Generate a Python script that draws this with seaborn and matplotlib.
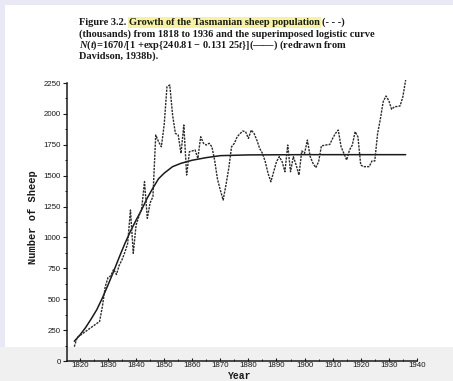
import matplotlib
matplotlib.use('Agg')
import matplotlib.pyplot as plt
import seaborn as sns
from matplotlib.patches import Rectangle
from matplotlib.ticker import MultipleLocator

sns.set_theme(style='ticks')
plt.rcParams['font.family'] = ['Liberation Sans', 'DejaVu Sans']
plt.rcParams['mathtext.fontset'] = 'custom'
plt.rcParams['mathtext.rm'] = 'Liberation Serif:bold'
plt.rcParams['mathtext.it'] = 'Liberation Serif:italic:bold'

# sheep population (thousands)
years = [1818, 1819, 1827, 1828, 1829, 1830, 1831, 1832, 1833, 1834, 1835, 1836,
         1837, 1838, 1839, 1840, 1841, 1842, 1843, 1844, 1845, 1846, 1847, 1848,
         1849, 1850, 1851, 1852, 1853, 1854, 1855, 1856, 1857, 1858, 1859, 1860,
         1861, 1862, 1863, 1864, 1865, 1866, 1867, 1868, 1869, 1870, 1871, 1872,
         1873, 1874, 1875, 1876, 1877, 1878, 1879, 1880, 1881, 1882, 1883, 1884,
         1885, 1886, 1887, 1888, 1889, 1890, 1891, 1892, 1893, 1894, 1895, 1896,
         1897, 1898, 1899, 1900, 1901, 1902, 1903, 1904, 1905, 1906, 1907, 1908,
         1909, 1910, 1911, 1912, 1913, 1914, 1915, 1916, 1917, 1918, 1919, 1920,
         1921, 1922, 1923, 1924, 1925, 1926, 1927, 1928, 1929, 1930, 1931, 1932,
         1933, 1934, 1935, 1936]
sheep = [116, 190, 320, 440, 600, 675, 690, 742, 700, 775, 820, 880,
         950, 1222, 872, 1100, 1170, 1236, 1451, 1155, 1280, 1330, 1829, 1775,
         1734, 1910, 2220, 2234, 1991, 1842, 1829, 1681, 1910, 1505, 1694, 1700,
         1708, 1640, 1815, 1762, 1748, 1762, 1734, 1620, 1470, 1384, 1303, 1424,
         1559, 1734, 1762, 1815, 1840, 1861, 1856, 1802, 1869, 1842, 1788, 1720,
         1681, 1613, 1519, 1451, 1532, 1613, 1654, 1613, 1532, 1748, 1532, 1654,
         1586, 1505, 1700, 1681, 1788, 1654, 1600, 1565, 1613, 1742, 1745, 1750,
         1753, 1802, 1842, 1869, 1734, 1680, 1627, 1708, 1748, 1856, 1815, 1586,
         1573, 1573, 1573, 1619, 1619, 1840, 1960, 2099, 2145, 2107, 2037, 2058,
         2060, 2064, 2139, 2274]

# superimposed logistic curve
fit_years = [1818, 1820, 1822, 1824, 1826, 1828, 1830, 1832, 1834, 1836, 1838,
             1840, 1842, 1844, 1846, 1848, 1850, 1853, 1856, 1860, 1865, 1870,
             1880, 1900, 1936]
fit_sheep = [160, 210, 270, 340, 415, 510, 615, 725, 840, 950, 1050,
             1140, 1225, 1320, 1400, 1475, 1520, 1573, 1600, 1625, 1646, 1662,
             1668, 1670, 1670]

x_ticks = list(range(1820, 1941, 10))
y_ticks = list(range(0, 2251, 250))

W, H = 453, 381
fig = plt.figure(figsize=(W / 100, H / 100), dpi=100)
fig.patch.set_facecolor('#e9e9f6')
fig.add_artist(Rectangle((5 / W, 1 - 347 / H), 448 / W, 342 / H,
                         transform=fig.transFigure, facecolor='white',
                         edgecolor='none', zorder=-2))
fig.add_artist(Rectangle((0, 0), 1, 34 / H, transform=fig.transFigure,
                         facecolor='#f0f0f0', edgecolor='none', zorder=-2))

ax = fig.add_axes([67 / W, 20 / H, 349.9 / W, 278 / H])
ax.set_facecolor('none')

ink = '#1a1a1a'
sns.lineplot(x=fit_years, y=fit_sheep, ax=ax, color=ink, linewidth=1.1)
sns.lineplot(x=years, y=sheep, ax=ax, color='#2a2a2a', linewidth=1.0,
             linestyle=(0, (1.6, 0.8)), clip_on=False)

ax.set_xlim(1815.4, 1940)
ax.set_ylim(0, 2250)
ax.set_xticks(x_ticks)
ax.set_yticks(y_ticks)
ax.xaxis.set_minor_locator(MultipleLocator(5))
ax.yaxis.set_minor_locator(MultipleLocator(125))
sns.despine(ax=ax)
for s in ['left', 'bottom']:
    ax.spines[s].set_color(ink)
    ax.spines[s].set_linewidth(1.1)
ax.tick_params(axis='y', which='major', direction='out', length=3, width=0.8,
               pad=1.5, labelsize=5.7, colors=ink)
ax.tick_params(axis='y', which='minor', direction='out', length=1.8, width=0.7, colors=ink)
ax.tick_params(axis='x', which='major', direction='in', length=2.5, width=0.8,
               pad=1.0, labelsize=5.7, colors=ink)
ax.tick_params(axis='x', which='minor', direction='in', length=1.5, width=0.7, colors=ink)

ax.set_ylabel('Number of Sheep', fontsize=7.5, fontweight='bold',
              family='Liberation Mono', color=ink, va='center')
ax.yaxis.set_label_coords((33 - 67) / 349.9, (361 - 217) / 278)
ax.set_xlabel('Year', fontsize=7, fontweight='bold', family='Liberation Mono',
              color=ink, va='center')
ax.xaxis.set_label_coords((240 - 67) / 349.9, (361 - 376) / 278)

# caption, drawn piece by piece so part of line 1 can be highlighted
fig.canvas.draw()
renderer = fig.canvas.get_renderer()
cap = dict(fontsize=7.45, fontweight='bold', family='Liberation Serif',
           color=ink, va='center', ha='left')
gap = 2.6 / W


def caption_line(y_px, pieces):
    x = 79 / W
    for txt, hl in pieces:
        t = fig.text(x, 1 - y_px / H, txt, **cap)
        if hl:
            t.set_bbox(dict(facecolor='#f8f2a0', edgecolor='none', pad=0.5))
        bb = t.get_window_extent(renderer)
        x = bb.x1 / W + gap


caption_line(22.3, [('Figure 3.2.', False),
                    ('Growth of the Tasmanian sheep population', True),
                    ('(- - -)', False)])
caption_line(33.7, [('(thousands) from 1818 to 1936 and the superimposed logistic curve', False)])
caption_line(45.1, [('$N$($t$)=1670/[1 +exp{240.81 \u2212 0.131 25$t$}](\u2014\u2014) (redrawn from', False)])
caption_line(56.5, [('Davidson, 1938b).', False)])

fig.savefig('out.png', dpi=100)
